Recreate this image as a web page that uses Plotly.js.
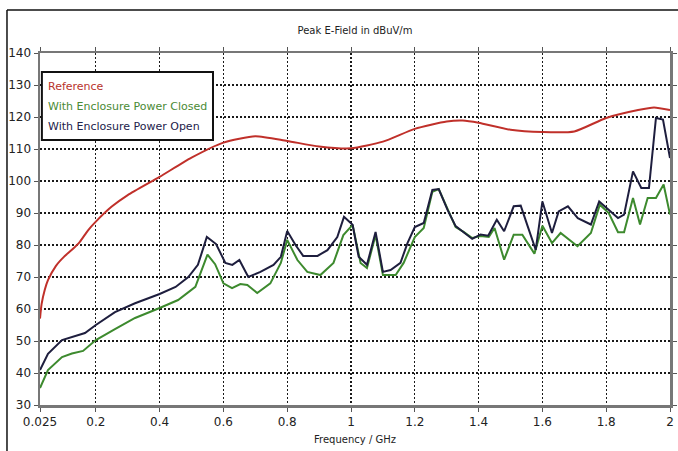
<!DOCTYPE html>
<html>
<head>
<meta charset="utf-8">
<script src="https://cdn.plot.ly/plotly-3.0.1.min.js"></script>
<style>html,body{margin:0;padding:0;background:#fff;}#chart{width:678px;height:451px;}</style>
</head>
<body>
<div id="chart"></div>
<script>
// Reference curve
const refFreq = [0.025,0.03,0.04,0.05,0.075,0.1,0.125,0.15,0.175,0.2,0.25,0.3,0.4,0.5,0.6,0.7,0.8,0.9,1.0,1.1,1.2,1.3,1.35,1.4,1.5,1.6,1.7,1.8,1.9,1.95,2.0];
const refVal  = [57,61.5,66,69,73.5,76.3,78.5,81,84.5,87.3,92,95.6,101.3,107.3,112,114,112.5,110.8,110.2,112.3,116.3,118.6,118.9,118.2,116,115.3,115.5,119.7,122.2,123,122.2];

// With Enclosure Power Open
const openFreq = [0.025,0.05,0.094,0.125,0.166,0.2,0.26,0.323,0.4,0.45,0.49,0.52,0.548,0.577,0.606,0.628,0.65,0.678,0.716,0.757,0.78,0.8,0.826,0.85,0.895,0.926,0.957,0.978,1.005,1.024,1.05,1.077,1.1,1.124,1.155,1.177,1.2,1.228,1.255,1.275,1.303,1.328,1.353,1.38,1.406,1.43,1.457,1.48,1.51,1.532,1.554,1.579,1.6,1.63,1.651,1.68,1.711,1.752,1.778,1.806,1.837,1.856,1.884,1.91,1.934,1.956,1.978,2.0];
const openVal  = [40.9,46,50.3,51.3,52.5,55,59,61.8,64.7,66.9,70,73.8,82.5,80.3,74.4,73.8,75.3,70,71.6,73.8,76.3,84.4,80,76.6,76.6,78.4,82.5,88.8,86.3,76.3,73.8,84.1,71.6,72.2,74.4,80.6,85.6,86.9,97.2,97.5,90.9,85.9,84.1,81.9,83.3,82.9,87.9,84.3,92.1,92.3,85.8,78.5,93.6,83.75,90.5,92.1,88.4,86.4,93.6,91,88.4,89.5,103,97.8,97.8,119.7,119.2,107.2];

// With Enclosure Power Closed
const closedFreq = [0.025,0.05,0.094,0.125,0.16,0.2,0.26,0.323,0.4,0.458,0.512,0.55,0.574,0.6,0.627,0.653,0.675,0.706,0.747,0.78,0.8,0.832,0.863,0.904,0.945,0.976,1.005,1.03,1.05,1.077,1.1,1.14,1.165,1.2,1.228,1.255,1.275,1.303,1.328,1.353,1.38,1.406,1.432,1.45,1.48,1.51,1.537,1.575,1.6,1.63,1.657,1.71,1.752,1.78,1.808,1.837,1.856,1.884,1.906,1.93,1.956,1.98,2.0];
const closedVal  = [35.3,40.9,45,46.1,46.9,50.3,53.7,57.2,60.3,62.8,66.9,77,74,68,66.5,67.8,67.5,65,68,74.4,81.6,75.3,71.6,70.6,74.4,83.1,86.3,74.4,72.8,83.1,70.6,70.6,74.4,82.5,85.3,96.6,97.5,90.9,85.6,84.1,82.2,82.8,82.5,85.3,75.4,83.2,83.2,77.3,86,80.6,83.75,79.6,83.75,92.6,90,84,84,94.7,86.4,94.7,94.7,98.9,89.5];

const seriesNames = ["Reference","With Enclosure Power Closed","With Enclosure Power Open"];
const xTickVals = [0.025,0.2,0.4,0.6,0.8,1,1.2,1.4,1.6,1.8,2];
const xTickText = ["0.025","0.2","0.4","0.6","0.8","1","1.2","1.4","1.6","1.8","2"];

const cRef = "#c0302a", cClosed = "#3d8a2e", cOpen = "#1e1e3e";

const traces = [
  {x: refFreq, y: refVal, name: seriesNames[0], mode: "lines", line: {color: cRef, width: 2, shape: "spline", smoothing: 0.6}},
  {x: closedFreq, y: closedVal, name: seriesNames[1], mode: "lines", line: {color: cClosed, width: 2}},
  {x: openFreq, y: openVal, name: seriesNames[2], mode: "lines", line: {color: cOpen, width: 2}}
];

const axisCommon = {
  showgrid: true, gridcolor: "#1a1a1a", griddash: "2px,2px", gridwidth: 1.3,
  showline: true, linecolor: "#777", linewidth: 2.5, mirror: "ticks",
  ticks: "outside", ticklen: 4, tickcolor: "#555", zeroline: false,
  tickfont: {family: "DejaVu Sans", size: 12, color: "#222"}
};

const legY = [0.906, 0.849, 0.792];
const legColors = ["#b8332c", "#4a8a35", "#22224a"];

const layout = {
  width: 678, height: 451,
  margin: {l: 40, r: 8, t: 53, b: 46},
  paper_bgcolor: "#fff", plot_bgcolor: "#fff",
  showlegend: false,
  title: {text: "Peak E-Field in dBuV/m", font: {family: "DejaVu Sans", size: 10, color: "#222"},
          x: 0.5, xref: "paper", y: 1 - 30/451, yref: "container", yanchor: "middle"},
  xaxis: Object.assign({}, axisCommon, {range: [0.025, 2], tickvals: xTickVals, ticktext: xTickText,
          title: {text: "Frequency / GHz", font: {family: "DejaVu Sans", size: 10, color: "#222"}, standoff: 8}}),
  yaxis: Object.assign({}, axisCommon, {range: [30, 140], dtick: 10, tick0: 30}),
  shapes: [
    {type: "rect", xref: "paper", yref: "paper", x0: 0.003, x1: 0.2746, y0: 0.7528, y1: 0.946,
     line: {color: "#111", width: 2}, fillcolor: "#fff", layer: "above"},
    {type: "line", xref: "paper", yref: "paper", x0: -0.0524, x1: -0.0524, y0: -0.2, y1: 1.122,
     line: {color: "#111", width: 1.5}},
    {type: "line", xref: "paper", yref: "paper", x0: -0.0524, x1: 1.1, y0: 1.122, y1: 1.122,
     line: {color: "#111", width: 1.5}}
  ],
  annotations: seriesNames.map((n, i) => ({
    text: n, xref: "paper", yref: "paper", x: 0.01, y: legY[i], xanchor: "left", yanchor: "middle",
    showarrow: false, font: {family: "DejaVu Sans", size: 11, color: legColors[i]}
  }))
};

Plotly.newPlot("chart", traces, layout, {displayModeBar: false, staticPlot: true});
</script>
</body>
</html>
